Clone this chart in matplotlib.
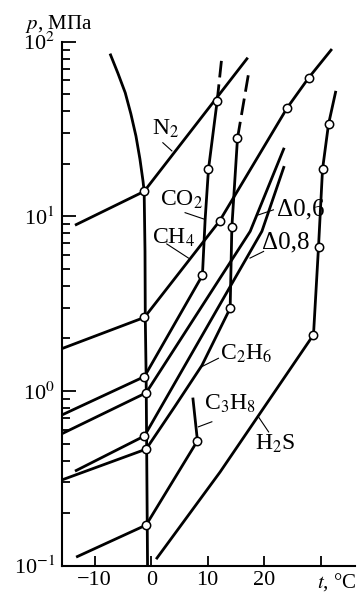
import matplotlib
matplotlib.use("Agg")
import matplotlib.pyplot as plt

plt.rcParams["font.family"] = ["Liberation Serif", "DejaVu Serif"]
plt.rcParams["mathtext.fontset"] = "stix"

# boundary curve (ice / water)
t_bound = [-7.2, -5.9, -4.6, -3.6, -2.7, -2.0, -1.45, -1.25, -1.1, -1.05, -0.9, -0.8, -0.65]
p_bound = [84, 66, 51, 38.6, 28.8, 21.3, 15.9, 13.9, 6.3, 2.64, 1.21, 0.45, 0.1]

# gases: line points and marked points
t_n2 = [-13.5, -1.25, 17.1]
p_n2 = [8.9, 13.9, 81]
t_n2_pts = [-1.25]
p_n2_pts = [13.9]

t_ch4 = [-15.8, -1.2, 12.1, 24.1, 27.9, 32.0]
p_ch4 = [1.75, 2.64, 9.4, 41.9, 62.2, 90.8]
t_ch4_pts = [-1.2, 12.1, 24.1, 27.9]
p_ch4_pts = [2.64, 9.4, 41.9, 62.2]

t_co2 = [-15.8, -1.2, 9.07, 9.55, 10.14, 11.68]
p_co2 = [0.73, 1.21, 4.6, 9.6, 18.6, 45.8]
t_co2_dash = [11.68, 12.5]
p_co2_dash = [45.8, 81.4]
t_co2_pts = [-1.2, 9.07, 10.14, 11.68]
p_co2_pts = [1.21, 4.6, 18.6, 45.8]

t_d06 = [-15.8, -0.9, 17.53, 23.55]
p_d06 = [0.57, 0.977, 8.21, 24.7]
t_d06_pts = [-0.9]
p_d06_pts = [0.977]

t_d08 = [-13.5, -1.2, 19.6, 23.55]
p_d08 = [0.348, 0.553, 8.21, 19.4]
t_d08_pts = [-1.2]
p_d08_pts = [0.553]

t_c2h6 = [-15.8, -0.9, 4.2, 8.97, 13.98, 14.28, 15.28]
p_c2h6 = [0.31, 0.465, 0.817, 1.40, 2.98, 8.65, 28.0]
t_c2h6_dash = [15.28, 17.22]
p_c2h6_dash = [28.0, 65.2]
t_c2h6_pts = [-0.9, 13.98, 14.28, 15.28]
p_c2h6_pts = [0.465, 2.98, 8.65, 28.0]

t_c3h8 = [-13.3, -0.9, 8.19, 7.37]
p_c3h8 = [0.112, 0.171, 0.519, 0.917]
t_c3h8_pts = [-0.9, 8.19]
p_c3h8_pts = [0.171, 0.519]

t_h2s = [0.87, 12.2, 28.74, 29.63, 30.34, 31.4, 32.7]
p_h2s = [0.109, 0.344, 2.1, 6.7, 18.6, 33.7, 52.3]
t_h2s_pts = [28.74, 29.63, 30.34, 31.4]
p_h2s_pts = [2.1, 6.7, 18.6, 33.7]

# labels: text, text position, leader start, leader end
labels = [
    ("N$_2$", (2.5, 31.5), (2.06, 26.4), (3.66, 23.7)),
    ("CO$_2$", (5.3, 12.4), (6.0, 10.5), (9.55, 9.6)),
    ("CH$_4$", (3.9, 7.5), (2.76, 6.95), (6.6, 5.77)),
    ("Δ0,6", (26.5, 10.9), (19.0, 10.2), (21.65, 10.9)),
    ("Δ0,8", (23.8, 7.1), (17.5, 5.77), (19.9, 6.3)),
    ("C$_2$H$_6$", (16.8, 1.64), (8.97, 1.38), (11.9, 1.54)),
    ("C$_3$H$_8$", (14.0, 0.845), (8.36, 0.624), (10.74, 0.667)),
    ("H$_2$S", (21.96, 0.499), (19.0, 0.711), (20.8, 0.583)),
]

fig = plt.figure(figsize=(3.59, 5.93), dpi=100)
ax = fig.add_axes([0.1727, 0.046, 0.8163, 0.8837])

LW = 2.0
ax.plot(t_bound, p_bound, color="k", lw=LW)
for t, p in [(t_n2, p_n2), (t_ch4, p_ch4), (t_co2, p_co2), (t_d06, p_d06),
             (t_c2h6, p_c2h6), (t_d08, p_d08), (t_c3h8, p_c3h8), (t_h2s, p_h2s)]:
    ax.plot(t, p, color="k", lw=LW, solid_capstyle="butt")
for t, p in [(t_co2_dash, p_co2_dash), (t_c2h6_dash, p_c2h6_dash)]:
    ax.plot(t, p, color="k", lw=LW, linestyle=(0, (6, 2.5)))
for t, p in [(t_n2_pts, p_n2_pts), (t_ch4_pts, p_ch4_pts), (t_co2_pts, p_co2_pts),
             (t_d06_pts, p_d06_pts), (t_c2h6_pts, p_c2h6_pts), (t_d08_pts, p_d08_pts),
             (t_c3h8_pts, p_c3h8_pts), (t_h2s_pts, p_h2s_pts)]:
    ax.plot(t, p, "o", ms=6, mfc="white", mec="k", mew=1.1, zorder=4)

for txt, (tx, ty), (x0, y0), (x1, y1) in labels:
    size = 18 if txt.startswith("Δ") else 17
    ax.text(tx, ty, txt, fontsize=size, ha="center", va="center")
    ax.plot([x0, x1], [y0, y1], color="k", lw=0.8)

ax.set_yscale("log")
ax.set_xlim(-15.8, 36.1)
ax.set_ylim(0.1, 100)
ax.spines["top"].set_visible(False)
ax.spines["right"].set_visible(False)
ax.spines["left"].set_linewidth(1.5)
ax.spines["bottom"].set_linewidth(1.5)

ax.set_xticks([-10, 0, 10, 20, 30])
ax.set_xticklabels(["−10", "0", "10", "20", ""])
ax.tick_params(axis="x", direction="in", length=7, width=1.3, labelsize=16, pad=4)
ax.tick_params(axis="y", which="major", direction="in", length=10, width=1.3, labelsize=16, pad=5)
ax.tick_params(axis="y", which="minor", direction="in", length=6, width=1.3)
ax.set_yticks([0.1, 1, 10, 100])
ax.set_yticklabels(["10$^{-1}$", "10$^{0}$", "10$^{1}$", "10$^{2}$"])

ax.annotate("$t$, °C", xy=(29.3, 0), xycoords=("data", "axes fraction"),
            xytext=(0, -4), textcoords="offset points",
            fontsize=15, ha="left", va="top")
fig.text(25 / 359, 1 - 24 / 593, "$p$, МПа", fontsize=15, ha="left", va="center")

fig.savefig("out.png", dpi=100)
